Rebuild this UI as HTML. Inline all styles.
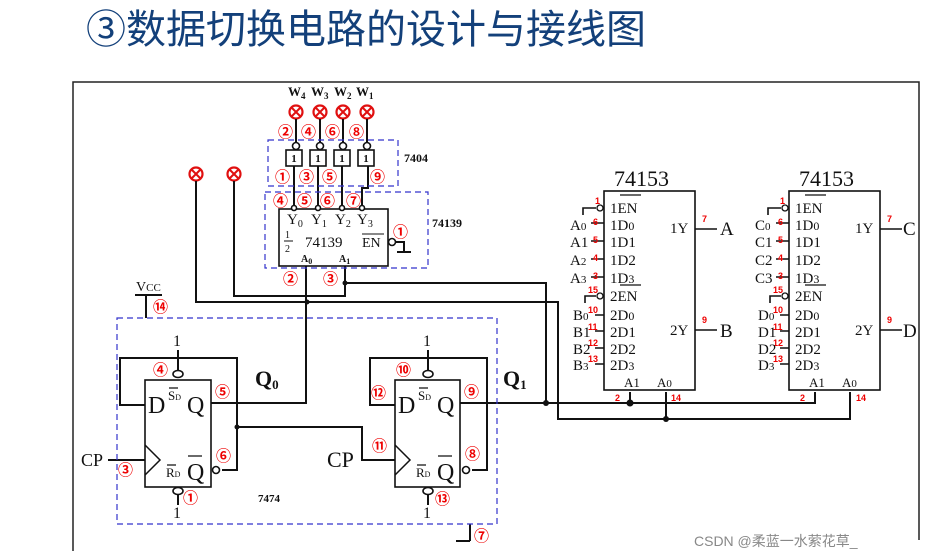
<!DOCTYPE html>
<html><head><meta charset="utf-8"><style>
body{margin:0;background:#fff;width:931px;height:559px;overflow:hidden}
svg{display:block}
.t{font-family:"Liberation Serif",serif;fill:#111}
.r{font-family:"Liberation Sans",sans-serif;fill:#e00;font-weight:bold;font-size:9px}
</style></head><body>
<svg width="931" height="559" viewBox="0 0 931 559" xmlns="http://www.w3.org/2000/svg">
<text x="86" y="43" font-family="Liberation Sans,'Noto Sans CJK SC',sans-serif" font-size="40" fill="#13407a">③数据切换电路的设计与接线图</text>
<g stroke="#222" stroke-width="1.5" fill="none">
<path d="M73 551V82H919V540"/>
</g>
<!-- lamps -->
<g stroke="#e01010" stroke-width="2.2" fill="#fff">
<circle cx="296" cy="112" r="6.5"/><circle cx="320" cy="112" r="6.5"/><circle cx="343" cy="112" r="6.5"/><circle cx="367" cy="112" r="6.5"/>
<circle cx="196" cy="174" r="6.5"/><circle cx="234" cy="174" r="6.5"/>
</g>
<g stroke="#e01010" stroke-width="2">
<path d="M292 108l8 8M300 108l-8 8M316 108l8 8M324 108l-8 8M339 108l8 8M347 108l-8 8M363 108l8 8M371 108l-8 8M192 170l8 8M200 170l-8 8M230 170l8 8M238 170l-8 8"/>
</g>
<g class="t" font-size="13" font-weight="bold"><text x="288" y="96">W<tspan font-size="9" dy="3">4</tspan></text><text x="311" y="96">W<tspan font-size="9" dy="3">3</tspan></text><text x="334" y="96">W<tspan font-size="9" dy="3">2</tspan></text><text x="356" y="96">W<tspan font-size="9" dy="3">1</tspan></text></g>
<!-- wires black -->
<g stroke="#111" stroke-width="2" fill="none">
<path d="M296 119V143M320 119V143M343 119V143M367 119V143"/>
<path d="M294 166V206M318 166V206M342 166V206M368 166V188H362V206"/>
<path d="M196 181V302H558V419H850V392"/>
<path d="M234 181V296H345V266"/>
<path d="M345 283H546V403"/>
<path d="M306 266V403H211"/>
<path d="M460 403H815V392"/>
<path d="M630 403V392M666 419V392"/>
<path d="M145 405H120V358H237V470H222"/>
<path d="M237 427H362V460H395"/>
<path d="M395 405H370V358H487V470H472"/>
<path d="M178 350V370M178 495V505M428 350V370M428 495V505"/>
<path d="M108 460H145"/>
<path d="M396 242H404V252M397 252H411"/>
<path d="M146 295V318M135 295H162"/>
<path d="M470 524V541M456 541H470"/>
</g>
<g fill="#111"><circle cx="345" cy="283" r="2.5"/><circle cx="307" cy="302" r="2.5"/><circle cx="546" cy="403" r="3"/><circle cx="630" cy="403" r="3.5"/><circle cx="666" cy="419" r="3"/><circle cx="237" cy="427" r="2.5"/></g>
<g stroke="#33c" stroke-width="1.2" stroke-dasharray="6,4" fill="none">
<rect x="268" y="140" width="130" height="46"/>
<rect x="265" y="192" width="163" height="76"/>
<rect x="117" y="318" width="380" height="206"/>
</g>
<g stroke="#111" stroke-width="1.6" fill="#fff">
<rect x="286" y="150" width="16" height="16"/><rect x="310" y="150" width="16" height="16"/><rect x="334" y="150" width="16" height="16"/><rect x="358" y="150" width="16" height="16"/>
<circle cx="296" cy="146" r="3.5"/><circle cx="320" cy="146" r="3.5"/><circle cx="343" cy="146" r="3.5"/><circle cx="367" cy="146" r="3.5"/>
<rect x="279" y="209" width="109" height="57"/>
<circle cx="294" cy="208" r="2.5"/><circle cx="318" cy="208" r="2.5"/><circle cx="342" cy="208" r="2.5"/><circle cx="362" cy="208" r="2.5"/>
<circle cx="392" cy="242" r="3.5"/>
<rect x="145" y="380" width="66" height="107"/><rect x="395" y="380" width="65" height="107"/>
<ellipse cx="178" cy="374" rx="5" ry="3.5"/><ellipse cx="178" cy="491" rx="5" ry="3.5"/>
<ellipse cx="428" cy="374" rx="5" ry="3.5"/><ellipse cx="428" cy="491" rx="5" ry="3.5"/>
<circle cx="216" cy="470" r="3.5"/><circle cx="466" cy="470" r="3.5"/>
</g>
<g stroke="#111" stroke-width="1.5" fill="none"><path d="M145 445L160 460L145 475M395 445L410 460L395 475"/></g>
<g class="t" font-size="11" font-weight="bold" text-anchor="middle"><text x="294" y="162">1</text><text x="318" y="162">1</text><text x="342" y="162">1</text><text x="366" y="162">1</text></g>
<text class="t" x="404" y="162" font-size="12" font-weight="bold">7404</text>
<text class="t" x="432" y="227" font-size="12" font-weight="bold">74139</text>
<g class="t" font-size="15"><text x="287" y="224">Y<tspan font-size="10" dy="3">0</tspan></text><text x="311" y="224">Y<tspan font-size="10" dy="3">1</tspan></text><text x="335" y="224">Y<tspan font-size="10" dy="3">2</tspan></text><text x="357" y="224">Y<tspan font-size="10" dy="3">3</tspan></text>
<text x="305" y="247" font-size="15">74139</text><text x="362" y="247" font-size="14">EN</text>
<text x="285" y="238" font-size="10">1</text><text x="285" y="252" font-size="10">2</text></g>
<path d="M284 241H293M362 234H384" stroke="#111" stroke-width="1"/>
<g class="t" font-size="10" font-weight="bold"><text x="301" y="262">A<tspan font-size="8" dy="2">0</tspan></text><text x="339" y="262">A<tspan font-size="8" dy="2">1</tspan></text></g>
<g font-family="Liberation Sans,'Noto Sans CJK SC',sans-serif" font-size="15" font-weight="bold" fill="#e00">
<text x="278" y="137">②</text><text x="301" y="137">④</text><text x="325" y="137">⑥</text><text x="349" y="137">⑧</text>
<text x="275" y="182">①</text><text x="299" y="182">③</text><text x="322" y="182">⑤</text><text x="370" y="182">⑨</text>
<text x="273" y="206">④</text><text x="297" y="206">⑤</text><text x="320" y="206">⑥</text><text x="346" y="206">⑦</text>
<text x="393" y="237">①</text><text x="283" y="284">②</text><text x="323" y="284">③</text>
<text x="153" y="312">⑭</text><text x="153" y="375">④</text><text x="215" y="397">⑤</text><text x="216" y="461">⑥</text><text x="118" y="475">③</text><text x="183" y="503">①</text>
<text x="396" y="375">⑩</text><text x="371" y="398">⑫</text><text x="464" y="397">⑨</text><text x="372" y="451">⑪</text><text x="465" y="459">⑧</text><text x="435" y="504">⑬</text><text x="474" y="541">⑦</text>
</g>
<g class="t"><text x="136" y="291" font-size="14">V<tspan font-size="11">CC</tspan></text>
<text x="173" y="346" font-size="16">1</text><text x="173" y="518" font-size="16">1</text><text x="423" y="346" font-size="16">1</text><text x="423" y="518" font-size="16">1</text>
<text x="81" y="466" font-size="18">CP</text><text x="327" y="467" font-size="22">CP</text>
<text x="255" y="386" font-size="22" font-weight="bold">Q<tspan font-size="13" dy="3">0</tspan></text>
<text x="503" y="386" font-size="22" font-weight="bold">Q<tspan font-size="13" dy="3">1</tspan></text>
<text x="258" y="502" font-size="11" font-weight="bold">7474</text>
<g font-size="24"><text x="148" y="413">D</text><text x="187" y="413">Q</text><text x="398" y="413">D</text><text x="437" y="413">Q</text><text x="187" y="480">Q</text><text x="437" y="480">Q</text></g>
<g font-size="13"><text x="168" y="400">S<tspan font-size="8">D</tspan></text><text x="418" y="400">S<tspan font-size="8">D</tspan></text><text x="166" y="477">R<tspan font-size="8">D</tspan></text><text x="416" y="477">R<tspan font-size="8">D</tspan></text></g>
</g>
<path d="M169 388H178M419 388H428M167 465H176M417 465H426M188 456H202M438 456H452" stroke="#111" stroke-width="1.2"/>
<!-- 74153 chips -->
<g id="c1">
<rect x="604" y="191" width="91" height="199" fill="#fff" stroke="#111" stroke-width="1.6"/>
<text class="t" x="614" y="186" font-size="22">74153</text>
<g class="t" font-size="15"><text x="610" y="213">1EN</text><text x="610" y="230">1D<tspan font-size="12">0</tspan></text><text x="610" y="247">1D1</text><text x="610" y="265">1D2</text><text x="610" y="283">1D<tspan font-size="12">3</tspan></text><text x="610" y="301">2EN</text><text x="610" y="320">2D<tspan font-size="12">0</tspan></text><text x="610" y="337">2D1</text><text x="610" y="354">2D2</text><text x="610" y="370">2D<tspan font-size="12">3</tspan></text>
<text x="670" y="233">1Y</text><text x="670" y="335">2Y</text><text x="624" y="387" font-size="13">A1</text><text x="657" y="387" font-size="13">A<tspan font-size="11">0</tspan></text></g>
<path d="M620 195H641M620 285H641" stroke="#111" stroke-width="1.2"/>
<g stroke="#111" stroke-width="1.6" fill="none"><path d="M591 223H604M591 241H604M591 259H604M591 277H604M595 315H604M595 331H604M595 348H604M595 364H604M695 229H717M695 330H717M596 208H583V215M596 296H585V303"/></g>
<g fill="#fff" stroke="#111" stroke-width="1.3"><circle cx="600" cy="208" r="3"/><circle cx="600" cy="296" r="3"/></g>
<g class="r"><text x="595" y="204">1</text><text x="593" y="225">6</text><text x="593" y="243">5</text><text x="593" y="261">4</text><text x="593" y="279">3</text><text x="588" y="293">15</text><text x="588" y="313">10</text><text x="588" y="330">11</text><text x="588" y="346">12</text><text x="588" y="362">13</text><text x="702" y="222">7</text><text x="702" y="323">9</text><text x="615" y="401">2</text><text x="671" y="401">14</text></g>
</g>
<use href="#c1" x="185"/>
<g class="t" font-size="15">
<text x="570" y="230">A<tspan font-size="11">0</tspan></text><text x="570" y="247">A1</text><text x="570" y="265">A<tspan font-size="11">2</tspan></text><text x="570" y="283">A<tspan font-size="11">3</tspan></text>
<text x="573" y="320">B<tspan font-size="11">0</tspan></text><text x="573" y="337">B1</text><text x="573" y="354">B2</text><text x="573" y="370">B<tspan font-size="11">3</tspan></text>
<text x="755" y="230">C<tspan font-size="11">0</tspan></text><text x="755" y="247">C1</text><text x="755" y="265">C2</text><text x="755" y="283">C3</text>
<text x="758" y="320">D<tspan font-size="11">0</tspan></text><text x="758" y="337">D1</text><text x="758" y="354">D2</text><text x="758" y="370">D<tspan font-size="11">3</tspan></text>
<text x="720" y="235" font-size="19">A</text><text x="720" y="337" font-size="19">B</text>
<text x="903" y="235" font-size="19">C</text><text x="903" y="337" font-size="19">D</text></g>
<text x="694" y="546" font-family="Liberation Sans,'Noto Sans CJK SC',sans-serif" font-size="14" fill="#888">CSDN @柔蓝一水萦花草_</text>
</svg>
</body></html>
